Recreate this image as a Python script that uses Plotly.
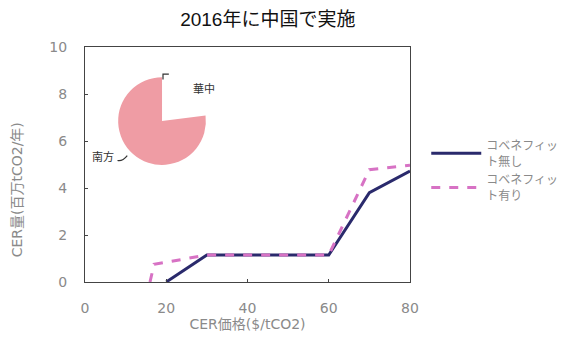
import plotly.graph_objects as go

# CER supply vs. price, with and without co-benefits
price_no = [20, 30, 60, 70, 80]
cer_no = [0.0, 1.15, 1.15, 3.8, 4.72]
price_yes = [16, 17, 30, 60, 70, 80]
cer_yes = [0.0, 0.75, 1.15, 1.15, 4.78, 4.97]
series_names = ["コベネフィッ<br>ト無し", "コベネフィッ<br>ト有り"]

# Regional share (inset pie)
regions = ["華中", "南方"]
region_share = [23, 77]

x_ticks = [0, 20, 40, 60, 80]
y_ticks = [0, 2, 4, 6, 8, 10]

FONT = "DejaVu Sans, Noto Sans CJK JP, sans-serif"
GREY = "#8a8a8a"

fig = go.Figure()

fig.add_trace(go.Scatter(
    x=price_no, y=cer_no, mode="lines", name=series_names[0],
    line=dict(color="#2a2a6c", width=3),
))
fig.add_trace(go.Scatter(
    x=price_yes, y=cer_yes, mode="lines", name=series_names[1],
    line=dict(color="#d772c4", width=3, dash="dash"),
))

fig.add_trace(go.Pie(
    labels=regions, values=region_share, sort=False,
    direction="clockwise", rotation=0, textinfo="none",
    marker=dict(colors=["rgba(0,0,0,0)", "#ef9ca4"], line=dict(width=0)),
    domain=dict(x=[0.102, 0.372], y=[0.498, 0.872]),
    showlegend=False, hoverinfo="skip",
))

# Pie labels with short leader strokes
fig.add_annotation(text="華中", xref="paper", yref="paper", x=0.325, y=0.87,
                   showarrow=False, font=dict(size=11, color="#333",
                                              family="Noto Sans CJK JP"))
fig.add_annotation(text="南方", xref="paper", yref="paper", x=0.055, y=0.535,
                   xanchor="center", showarrow=False,
                   font=dict(size=11, color="#333", family="Noto Sans CJK JP"))
fig.add_shape(type="path", xref="paper", yref="paper",
              path="M 0.24,0.862 L 0.24,0.885 L 0.258,0.885",
              line=dict(color="#333", width=1.2))
fig.add_shape(type="path", xref="paper", yref="paper",
              path="M 0.1,0.517 Q 0.115,0.512 0.13,0.538",
              line=dict(color="#333", width=1.2))

# y-axis title placed as rotated text
fig.add_annotation(text="CER量(百万tCO2/年)", xref="paper", yref="paper",
                   x=-0.24, y=0.39, textangle=-90, showarrow=False,
                   font=dict(size=14, color=GREY, family=FONT))

fig.update_layout(
    width=565, height=343,
    margin=dict(l=85, r=155, t=47, b=61, autoexpand=False),
    paper_bgcolor="white", plot_bgcolor="white",
    font=dict(family=FONT, color=GREY),
    title=dict(text="2016年に中国で実施", x=0.474, xanchor="center",
               y=0.945, yanchor="middle",
               font=dict(size=19, color="#111",
                         family="Liberation Sans, Noto Sans CJK JP")),
    legend=dict(x=1.05, y=0.642, xanchor="left", yanchor="top",
                font=dict(size=12, color=GREY, family="Noto Sans CJK JP"),
                bgcolor="rgba(0,0,0,0)", tracegroupgap=2, itemwidth=50),
    xaxis=dict(range=[0, 80], tickvals=x_ticks, showgrid=False, zeroline=False,
               showline=True, linecolor="#444", linewidth=1, mirror=True,
               ticks="inside", ticklen=3, tickcolor="#444",
               tickfont=dict(size=14, color=GREY), ticklabelstandoff=13,
               title=dict(text="CER価格($/tCO2)", standoff=3,
                          font=dict(size=14, color=GREY))),
    yaxis=dict(range=[0, 10], tickvals=y_ticks, showgrid=False, zeroline=False,
               showline=True, linecolor="#444", linewidth=1, mirror=True,
               ticks="inside", ticklen=3, tickcolor="#444",
               tickfont=dict(size=14, color=GREY), ticklabelstandoff=14),
)

fig.write_html("out.html")
